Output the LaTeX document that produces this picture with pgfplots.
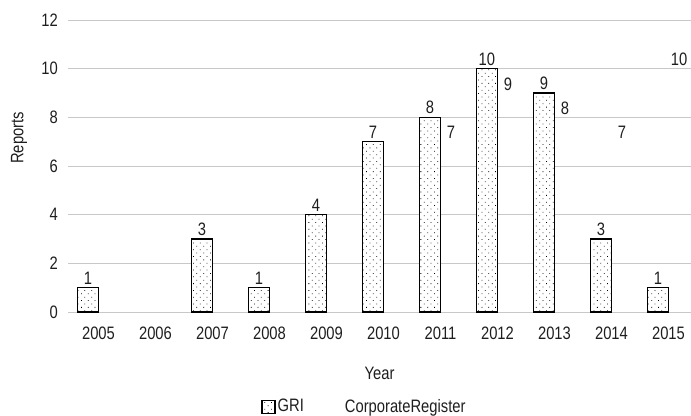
\documentclass[border=0pt]{standalone}
\usepackage{fontspec}
\setmainfont{Liberation Sans}[FakeStretch=0.82]
\usepackage{pgfplots}
\pgfplotsset{compat=1.18}
\usetikzlibrary{patterns.meta}
\definecolor{gridgray}{RGB}{200,200,200}
\definecolor{txt}{RGB}{30,30,30}
\begin{document}
\fontsize{18bp}{21bp}\selectfont
\begin{tikzpicture}
\begin{axis}[
  at={(0,0)}, anchor=south west,
  scale only axis,
  width=623bp, height=292bp,
  xmin=-0.535, xmax=10.395,
  ymin=0, ymax=12,
  xtick={0,...,10},
  xticklabels={2005,2006,2007,2008,2009,2010,2011,2012,2013,2014,2015},
  ytick={0,2,...,12},
  ymajorgrids,
  grid style={gridgray, line width=0.9bp},
  axis line style={draw=none},
  major tick length=0pt,
  /pgf/number format/assume math mode=true,
  tick label style={font=\fontsize{18bp}{21bp}\selectfont, txt},
  xticklabel style={anchor=center, yshift=-21.5bp},
  yticklabel style={xshift=-4bp},
  xlabel={Year}, ylabel={Reports},
  every axis x label/.style={at={(axis description cs:0.5,-0.2106)}, anchor=center,
    font=\fontsize{18bp}{21bp}\selectfont, txt},
  every axis y label/.style={at={(axis description cs:-0.0787,0.596)}, anchor=center, rotate=90,
    font=\fontsize{18bp}{21bp}\selectfont, txt},
  nodes near coords,
  every node near coord/.append style={font=\fontsize{18bp}{21bp}\selectfont, inner sep=2.5bp, txt},
  legend style={at={(0.3098,-0.325)}, anchor=west, draw=none, fill=none,
    inner sep=0pt, legend columns=2,
    font=\fontsize{18bp}{21bp}\selectfont, text=txt,
    /tikz/every even column/.append style={column sep=24bp}},
  legend cell align=left,
]
\addplot[ybar, bar width=0.37, bar shift=0, draw=black, line width=1.5bp,
  fill=white, postaction={pattern={Dots[distance=4.8bp, angle=45, radius=0.55bp]}, pattern color=black},
  forget plot]
  coordinates {(-0.185,1) (1.815,3) (2.815,1) (3.815,4) (4.815,7) (5.815,8) (6.815,10) (7.815,9) (8.815,3) (9.815,1)};
\addplot[ybar, bar width=0.37, bar shift=0, draw=none, fill=none, forget plot]
  coordinates {(6.185,7) (7.185,9) (8.185,8) (9.185,7) (10.185,10)};
\addlegendimage{legend image code/.code={\draw[draw=black, fill=white, line width=1.5bp,
  postaction={pattern={Dots[distance=4.8bp, angle=45, radius=0.55bp]}, pattern color=black}]
  (0bp,-6.5bp) rectangle (13bp,6.5bp);}}
\addlegendentry{GRI}
\addlegendimage{legend image code/.code={\path[draw=none, fill=none] (0bp,-6.5bp) rectangle (13bp,6.5bp);}}
\addlegendentry{CorporateRegister}
\end{axis}
\pgfresetboundingbox
\path (-68bp,-104bp) rectangle (623bp,312bp);
\end{tikzpicture}
\end{document}
